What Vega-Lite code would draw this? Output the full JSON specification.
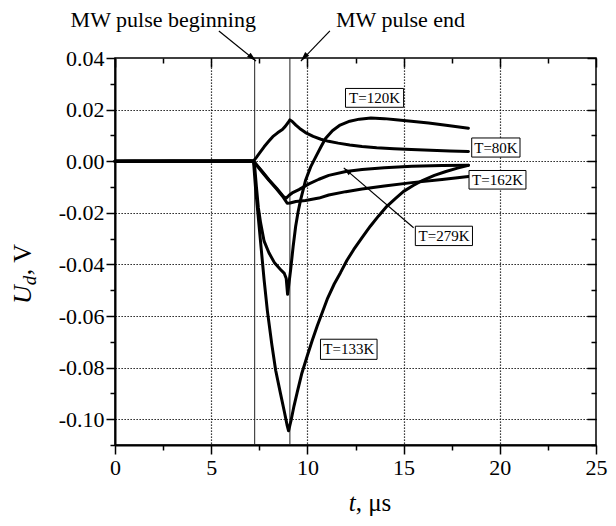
{
  "$schema": "https://vega.github.io/schema/vega-lite/v6.json",
  "width": 481,
  "height": 387,
  "autosize": {"type": "none"},
  "padding": {"left": 115, "top": 58, "right": 20, "bottom": 81},
  "background": "white",
  "config": {
    "view": {"stroke": "black", "strokeWidth": 1.5},
    "font": "Liberation Serif, Times New Roman, Times, serif",
    "text": {"font": "Liberation Serif, Times New Roman, Times, serif", "color": "black"}
  },
  "datasets": {
    "curves": [
      {"T": "80K", "t": 0, "u": 0}, {"T": "80K", "t": 1, "u": 0.0001}, {"T": "80K", "t": 2, "u": 0}, {"T": "80K", "t": 3, "u": 0.0001}, {"T": "80K", "t": 4, "u": 0}, {"T": "80K", "t": 5, "u": 0.0001}, {"T": "80K", "t": 6, "u": 0.0001}, {"T": "80K", "t": 7, "u": 0.0002}, {"T": "80K", "t": 7.2, "u": 0.0001},
      {"T": "80K", "t": 7.35, "u": 0.0015}, {"T": "80K", "t": 7.5, "u": 0.003}, {"T": "80K", "t": 7.75, "u": 0.0056}, {"T": "80K", "t": 8.0, "u": 0.0078}, {"T": "80K", "t": 8.2, "u": 0.0095}, {"T": "80K", "t": 8.45, "u": 0.011}, {"T": "80K", "t": 8.7, "u": 0.0123}, {"T": "80K", "t": 8.85, "u": 0.0135}, {"T": "80K", "t": 9.0, "u": 0.015}, {"T": "80K", "t": 9.09, "u": 0.016}, {"T": "80K", "t": 9.2, "u": 0.0155}, {"T": "80K", "t": 9.4, "u": 0.014}, {"T": "80K", "t": 9.6, "u": 0.0127}, {"T": "80K", "t": 9.9, "u": 0.0111}, {"T": "80K", "t": 10.3, "u": 0.0096}, {"T": "80K", "t": 10.7, "u": 0.0085}, {"T": "80K", "t": 11.1, "u": 0.0077}, {"T": "80K", "t": 11.6, "u": 0.007}, {"T": "80K", "t": 12.2, "u": 0.0063}, {"T": "80K", "t": 12.84, "u": 0.0057}, {"T": "80K", "t": 13.6, "u": 0.0052}, {"T": "80K", "t": 14.5, "u": 0.0048}, {"T": "80K", "t": 15.4, "u": 0.0045}, {"T": "80K", "t": 16.4, "u": 0.0042}, {"T": "80K", "t": 17.4, "u": 0.004}, {"T": "80K", "t": 18.37, "u": 0.0038},

      {"T": "120K", "t": 0, "u": 0}, {"T": "120K", "t": 1, "u": 0}, {"T": "120K", "t": 2, "u": 0.0001}, {"T": "120K", "t": 3, "u": 0}, {"T": "120K", "t": 4, "u": 0.0001}, {"T": "120K", "t": 5, "u": 0}, {"T": "120K", "t": 6, "u": 0.0001}, {"T": "120K", "t": 7, "u": 0.0001}, {"T": "120K", "t": 7.2, "u": 0},
      {"T": "120K", "t": 7.26, "u": -0.002}, {"T": "120K", "t": 7.35, "u": -0.01}, {"T": "120K", "t": 7.45, "u": -0.018}, {"T": "120K", "t": 7.57, "u": -0.024}, {"T": "120K", "t": 7.75, "u": -0.031}, {"T": "120K", "t": 8.0, "u": -0.0355}, {"T": "120K", "t": 8.3, "u": -0.0395}, {"T": "120K", "t": 8.6, "u": -0.042}, {"T": "120K", "t": 8.8, "u": -0.0435}, {"T": "120K", "t": 8.9, "u": -0.0455}, {"T": "120K", "t": 8.97, "u": -0.0516}, {"T": "120K", "t": 9.13, "u": -0.042}, {"T": "120K", "t": 9.26, "u": -0.033}, {"T": "120K", "t": 9.39, "u": -0.0252}, {"T": "120K", "t": 9.52, "u": -0.0195}, {"T": "120K", "t": 9.65, "u": -0.0149}, {"T": "120K", "t": 9.9, "u": -0.0075}, {"T": "120K", "t": 10.17, "u": -0.0022}, {"T": "120K", "t": 10.42, "u": 0.0015}, {"T": "120K", "t": 10.7, "u": 0.0055}, {"T": "120K", "t": 10.94, "u": 0.0088}, {"T": "120K", "t": 11.3, "u": 0.0118}, {"T": "120K", "t": 11.7, "u": 0.014}, {"T": "120K", "t": 12.2, "u": 0.0155}, {"T": "120K", "t": 12.7, "u": 0.0163}, {"T": "120K", "t": 13.3, "u": 0.0167}, {"T": "120K", "t": 14.0, "u": 0.0165}, {"T": "120K", "t": 14.6, "u": 0.0161}, {"T": "120K", "t": 15.4, "u": 0.0155}, {"T": "120K", "t": 16.3, "u": 0.0148}, {"T": "120K", "t": 17.3, "u": 0.0138}, {"T": "120K", "t": 18.37, "u": 0.0128},

      {"T": "133K", "t": 0, "u": 0}, {"T": "133K", "t": 1, "u": 0}, {"T": "133K", "t": 2, "u": 0}, {"T": "133K", "t": 3, "u": 0.0001}, {"T": "133K", "t": 4, "u": 0}, {"T": "133K", "t": 5, "u": 0}, {"T": "133K", "t": 6, "u": 0.0001}, {"T": "133K", "t": 7, "u": 0}, {"T": "133K", "t": 7.2, "u": 0},
      {"T": "133K", "t": 7.3, "u": -0.01}, {"T": "133K", "t": 7.45, "u": -0.022}, {"T": "133K", "t": 7.6, "u": -0.034}, {"T": "133K", "t": 7.75, "u": -0.046}, {"T": "133K", "t": 7.92, "u": -0.058}, {"T": "133K", "t": 8.15, "u": -0.071}, {"T": "133K", "t": 8.35, "u": -0.081}, {"T": "133K", "t": 8.6, "u": -0.09}, {"T": "133K", "t": 8.8, "u": -0.097}, {"T": "133K", "t": 8.95, "u": -0.1025}, {"T": "133K", "t": 9.02, "u": -0.1045}, {"T": "133K", "t": 9.15, "u": -0.1005}, {"T": "133K", "t": 9.3, "u": -0.095}, {"T": "133K", "t": 9.47, "u": -0.0896}, {"T": "133K", "t": 9.7, "u": -0.0825}, {"T": "133K", "t": 9.99, "u": -0.0755}, {"T": "133K", "t": 10.25, "u": -0.0695}, {"T": "133K", "t": 10.51, "u": -0.0639}, {"T": "133K", "t": 11.03, "u": -0.0535}, {"T": "133K", "t": 11.4, "u": -0.0475}, {"T": "133K", "t": 11.72, "u": -0.0432}, {"T": "133K", "t": 12.05, "u": -0.0385}, {"T": "133K", "t": 12.41, "u": -0.0342}, {"T": "133K", "t": 12.85, "u": -0.0295}, {"T": "133K", "t": 13.27, "u": -0.0252}, {"T": "133K", "t": 13.7, "u": -0.0212}, {"T": "133K", "t": 14.13, "u": -0.0175}, {"T": "133K", "t": 14.57, "u": -0.0145}, {"T": "133K", "t": 15.0, "u": -0.0117}, {"T": "133K", "t": 15.5, "u": -0.0094}, {"T": "133K", "t": 16.0, "u": -0.0074}, {"T": "133K", "t": 16.6, "u": -0.0055}, {"T": "133K", "t": 17.2, "u": -0.004}, {"T": "133K", "t": 17.8, "u": -0.0027}, {"T": "133K", "t": 18.37, "u": -0.0016},

      {"T": "162K", "t": 0, "u": 0}, {"T": "162K", "t": 1, "u": 0}, {"T": "162K", "t": 2, "u": 0}, {"T": "162K", "t": 3, "u": 0}, {"T": "162K", "t": 4, "u": 0.0001}, {"T": "162K", "t": 5, "u": 0}, {"T": "162K", "t": 6, "u": 0}, {"T": "162K", "t": 7, "u": 0.0001}, {"T": "162K", "t": 7.2, "u": 0},
      {"T": "162K", "t": 7.6, "u": -0.0038}, {"T": "162K", "t": 8.0, "u": -0.0074}, {"T": "162K", "t": 8.4, "u": -0.0108}, {"T": "162K", "t": 8.75, "u": -0.014}, {"T": "162K", "t": 8.95, "u": -0.0163}, {"T": "162K", "t": 9.1, "u": -0.0162}, {"T": "162K", "t": 9.4, "u": -0.0156}, {"T": "162K", "t": 9.9, "u": -0.0152}, {"T": "162K", "t": 10.6, "u": -0.0143}, {"T": "162K", "t": 11.11, "u": -0.0131}, {"T": "162K", "t": 12.0, "u": -0.0118}, {"T": "162K", "t": 12.84, "u": -0.0108}, {"T": "162K", "t": 14.0, "u": -0.0096}, {"T": "162K", "t": 15.43, "u": -0.0083}, {"T": "162K", "t": 17.0, "u": -0.0071}, {"T": "162K", "t": 18.37, "u": -0.0059},

      {"T": "279K", "t": 0, "u": 0}, {"T": "279K", "t": 1, "u": 0}, {"T": "279K", "t": 2, "u": 0}, {"T": "279K", "t": 3, "u": 0}, {"T": "279K", "t": 4, "u": 0}, {"T": "279K", "t": 5, "u": 0.0001}, {"T": "279K", "t": 6, "u": 0}, {"T": "279K", "t": 7, "u": 0}, {"T": "279K", "t": 7.2, "u": 0},
      {"T": "279K", "t": 7.6, "u": -0.0035}, {"T": "279K", "t": 8.0, "u": -0.0072}, {"T": "279K", "t": 8.4, "u": -0.0105}, {"T": "279K", "t": 8.75, "u": -0.0137}, {"T": "279K", "t": 8.9, "u": -0.0143}, {"T": "279K", "t": 9.05, "u": -0.0132}, {"T": "279K", "t": 9.21, "u": -0.0123}, {"T": "279K", "t": 9.56, "u": -0.011}, {"T": "279K", "t": 10.08, "u": -0.0088}, {"T": "279K", "t": 10.6, "u": -0.007}, {"T": "279K", "t": 11.11, "u": -0.0055}, {"T": "279K", "t": 12.0, "u": -0.004}, {"T": "279K", "t": 12.84, "u": -0.0032}, {"T": "279K", "t": 14.0, "u": -0.0025}, {"T": "279K", "t": 15.43, "u": -0.002}, {"T": "279K", "t": 17.0, "u": -0.0017}, {"T": "279K", "t": 18.37, "u": -0.0016}
    ],
    "markers": [{"t": 7.26}, {"t": 9.09}],
    "boxes": [
      {"label": "T=120K", "t0": 11.98, "t1": 15.0, "u0": 0.0209, "u1": 0.0282, "tc": 13.49, "uc": 0.0246},
      {"label": "T=80K", "t0": 18.54, "t1": 21.05, "u0": 0.0016, "u1": 0.009, "tc": 19.8, "uc": 0.0053},
      {"label": "T=162K", "t0": 18.4, "t1": 21.36, "u0": -0.0108, "u1": -0.0036, "tc": 19.88, "uc": -0.0072},
      {"label": "T=279K", "t0": 15.61, "t1": 18.58, "u0": -0.0327, "u1": -0.0252, "tc": 17.1, "uc": -0.029},
      {"label": "T=133K", "t0": 10.68, "t1": 13.62, "u0": -0.0768, "u1": -0.069, "tc": 12.15, "uc": -0.0729}
    ],
    "arrows": [
      {"name": "begin", "t0": 5.4, "u0": 0.0505, "t1": 7.33, "u1": 0.0388},
      {"name": "end", "t0": 11.17, "u0": 0.0505, "t1": 9.66, "u1": 0.0388},
      {"name": "k279", "t0": 15.52, "u0": -0.0258, "t1": 11.89, "u1": -0.0026}
    ],
    "notes": [
      {"txt": "MW pulse beginning", "t": 2.51, "u": 0.052},
      {"txt": "MW pulse end", "t": 14.84, "u": 0.052}
    ],
    "ytitle": [{"t": -4.34, "u": -0.0481}],
    "xtitle": [{"t": 12.51, "u": -0.1354}]
  },
  "layer": [
    {
      "data": {"name": "markers"},
      "mark": {"type": "rule", "stroke": "#222", "strokeWidth": 1},
      "encoding": {
        "x": {"field": "t", "type": "quantitative", "scale": {"domain": [0, 25], "nice": false, "zero": false}, "axis": null}
      }
    },
    {
      "data": {"name": "curves"},
      "mark": {"type": "line", "stroke": "black", "strokeWidth": 3, "strokeJoin": "round", "strokeCap": "round"},
      "encoding": {
        "x": {
          "field": "t", "type": "quantitative",
          "scale": {"domain": [0, 25], "nice": false, "zero": false},
          "axis": {
            "orient": "bottom", "title": null,
            "values": [0, 2.5, 5, 7.5, 10, 12.5, 15, 17.5, 20, 22.5, 25],
            "format": "d",
            "labelExpr": "datum.value % 5 === 0 ? datum.label : ''",
            "labelFont": "Liberation Serif, Times New Roman, Times, serif", "labelFontSize": 22, "labelColor": "black", "labelPadding": 3,
            "labelFlush": false, "labelOverlap": false,
            "tickColor": "black", "tickWidth": 1.5,
            "tickSize": {"condition": {"test": "datum.value % 5 === 0", "value": 9}, "value": 5},
            "domain": true, "domainColor": "black", "domainWidth": 2,
            "grid": true, "gridColor": "black", "gridDash": [1.3, 1.7], "gridWidth": 1.2,
            "gridOpacity": {"condition": {"test": "datum.value % 5 === 0 && datum.value > 0 && datum.value < 25", "value": 1}, "value": 0}
          }
        },
        "y": {
          "field": "u", "type": "quantitative",
          "scale": {"domain": [-0.11, 0.04], "nice": false, "zero": false},
          "axis": {
            "orient": "left", "title": null,
            "values": [-0.11, -0.1, -0.09, -0.08, -0.07, -0.06, -0.05, -0.04, -0.03, -0.02, -0.01, 0, 0.01, 0.02, 0.03, 0.04],
            "format": ".2f",
            "labelExpr": "abs(round(datum.value * 100)) % 2 === 0 ? replace(datum.label, '\u2212', '-') : ''",
            "labelFont": "Liberation Serif, Times New Roman, Times, serif", "labelFontSize": 22, "labelColor": "black", "labelPadding": 2,
            "labelOverlap": false, "labelFlush": false,
            "tickColor": "black", "tickWidth": 1.5,
            "tickSize": {"condition": {"test": "abs(round(datum.value * 100)) % 2 === 0", "value": 9}, "value": 5},
            "domain": true, "domainColor": "black", "domainWidth": 2,
            "grid": true, "gridColor": "black", "gridDash": [1.3, 1.7], "gridWidth": 1.2,
            "gridOpacity": {"condition": {"test": "abs(round(datum.value * 100)) % 2 === 0 && datum.value > -0.105 && datum.value < 0.035", "value": 1}, "value": 0}
          }
        },
        "detail": {"field": "T"}
      }
    },
    {
      "data": {"name": "boxes"},
      "mark": {"type": "rect", "fill": "white", "stroke": "black", "strokeWidth": 1},
      "encoding": {
        "x": {
          "field": "t0", "type": "quantitative",
          "scale": {"domain": [0, 25], "nice": false, "zero": false},
          "axis": {
            "orient": "top", "title": null,
            "values": [0, 2.5, 5, 7.5, 10, 12.5, 15, 17.5, 20, 22.5, 25],
            "labels": false, "domain": false, "grid": false,
            "tickColor": "black", "tickWidth": 1.5,
            "tickSize": {"condition": {"test": "datum.value % 5 === 0", "value": -9}, "value": -5}
          }
        },
        "x2": {"field": "t1"},
        "y": {
          "field": "u0", "type": "quantitative",
          "scale": {"domain": [-0.11, 0.04], "nice": false, "zero": false},
          "axis": {
            "orient": "right", "title": null,
            "values": [-0.11, -0.1, -0.09, -0.08, -0.07, -0.06, -0.05, -0.04, -0.03, -0.02, -0.01, 0, 0.01, 0.02, 0.03, 0.04],
            "labels": false, "domain": false, "grid": false,
            "tickColor": "black", "tickWidth": 1.5,
            "tickSize": {"condition": {"test": "abs(round(datum.value * 100)) % 2 === 0", "value": -9}, "value": -5}
          }
        },
        "y2": {"field": "u1"}
      }
    },
    {
      "data": {"name": "boxes"},
      "mark": {"type": "text", "fontSize": 15, "align": "center", "baseline": "middle", "color": "black"},
      "encoding": {
        "x": {"field": "tc", "type": "quantitative", "scale": {"domain": [0, 25], "nice": false, "zero": false}, "axis": null},
        "y": {"field": "uc", "type": "quantitative", "scale": {"domain": [-0.11, 0.04], "nice": false, "zero": false}, "axis": null},
        "text": {"field": "label"}
      }
    },
    {
      "data": {"name": "arrows"},
      "mark": {"type": "rule", "stroke": "black", "strokeWidth": 1.2},
      "encoding": {
        "x": {"field": "t0", "type": "quantitative", "scale": {"domain": [0, 25], "nice": false, "zero": false}, "axis": null},
        "y": {"field": "u0", "type": "quantitative", "scale": {"domain": [-0.11, 0.04], "nice": false, "zero": false}, "axis": null},
        "x2": {"field": "t1"},
        "y2": {"field": "u1"}
      }
    },
    {
      "data": {"name": "arrows"},
      "transform": [{"filter": "datum.name === 'begin'"}],
      "mark": {"type": "point", "shape": "M0,0L0.45,1.6L-0.45,1.6Z", "filled": true, "color": "black", "opacity": 1, "size": 144, "angle": 131.7},
      "encoding": {
        "x": {"field": "t1", "type": "quantitative", "scale": {"domain": [0, 25], "nice": false, "zero": false}, "axis": null},
        "y": {"field": "u1", "type": "quantitative", "scale": {"domain": [-0.11, 0.04], "nice": false, "zero": false}, "axis": null}
      }
    },
    {
      "data": {"name": "arrows"},
      "transform": [{"filter": "datum.name === 'end'"}],
      "mark": {"type": "point", "shape": "M0,0L0.45,1.6L-0.45,1.6Z", "filled": true, "color": "black", "opacity": 1, "size": 144, "angle": 221.3},
      "encoding": {
        "x": {"field": "t1", "type": "quantitative", "scale": {"domain": [0, 25], "nice": false, "zero": false}, "axis": null},
        "y": {"field": "u1", "type": "quantitative", "scale": {"domain": [-0.11, 0.04], "nice": false, "zero": false}, "axis": null}
      }
    },
    {
      "data": {"name": "arrows"},
      "transform": [{"filter": "datum.name === 'k279'"}],
      "mark": {"type": "point", "shape": "M0,0L0.45,1.6L-0.45,1.6Z", "filled": true, "color": "black", "opacity": 1, "size": 110, "angle": 310.6},
      "encoding": {
        "x": {"field": "t1", "type": "quantitative", "scale": {"domain": [0, 25], "nice": false, "zero": false}, "axis": null},
        "y": {"field": "u1", "type": "quantitative", "scale": {"domain": [-0.11, 0.04], "nice": false, "zero": false}, "axis": null}
      }
    },
    {
      "data": {"name": "notes"},
      "mark": {"type": "text", "fontSize": 22, "align": "center", "baseline": "alphabetic", "color": "black"},
      "encoding": {
        "x": {"field": "t", "type": "quantitative", "scale": {"domain": [0, 25], "nice": false, "zero": false}, "axis": null},
        "y": {"field": "u", "type": "quantitative", "scale": {"domain": [-0.11, 0.04], "nice": false, "zero": false}, "axis": null},
        "text": {"field": "txt"}
      }
    },
    {
      "data": {"name": "ytitle"},
      "mark": {"type": "text", "text": "U", "angle": 270, "align": "right", "baseline": "alphabetic", "fontStyle": "italic", "fontSize": 26, "color": "black"},
      "encoding": {
        "x": {"field": "t", "type": "quantitative", "scale": {"domain": [0, 25], "nice": false, "zero": false}, "axis": null},
        "y": {"field": "u", "type": "quantitative", "scale": {"domain": [-0.11, 0.04], "nice": false, "zero": false}, "axis": null}
      }
    },
    {
      "data": {"name": "ytitle"},
      "mark": {"type": "text", "text": "d", "angle": 270, "align": "left", "baseline": "alphabetic", "dy": 5, "fontStyle": "italic", "fontSize": 19, "color": "black"},
      "encoding": {
        "x": {"field": "t", "type": "quantitative", "scale": {"domain": [0, 25], "nice": false, "zero": false}, "axis": null},
        "y": {"field": "u", "type": "quantitative", "scale": {"domain": [-0.11, 0.04], "nice": false, "zero": false}, "axis": null}
      }
    },
    {
      "data": {"name": "ytitle"},
      "mark": {"type": "text", "text": ", V", "angle": 270, "align": "left", "baseline": "alphabetic", "dx": 10, "fontSize": 26, "color": "black"},
      "encoding": {
        "x": {"field": "t", "type": "quantitative", "scale": {"domain": [0, 25], "nice": false, "zero": false}, "axis": null},
        "y": {"field": "u", "type": "quantitative", "scale": {"domain": [-0.11, 0.04], "nice": false, "zero": false}, "axis": null}
      }
    },
    {
      "data": {"name": "xtitle"},
      "mark": {"type": "text", "text": "t", "align": "right", "baseline": "alphabetic", "fontStyle": "italic", "fontSize": 25, "color": "black"},
      "encoding": {
        "x": {"field": "t", "type": "quantitative", "scale": {"domain": [0, 25], "nice": false, "zero": false}, "axis": null},
        "y": {"field": "u", "type": "quantitative", "scale": {"domain": [-0.11, 0.04], "nice": false, "zero": false}, "axis": null}
      }
    },
    {
      "data": {"name": "xtitle"},
      "mark": {"type": "text", "text": ", μs", "align": "left", "baseline": "alphabetic", "fontSize": 25, "color": "black"},
      "encoding": {
        "x": {"field": "t", "type": "quantitative", "scale": {"domain": [0, 25], "nice": false, "zero": false}, "axis": null},
        "y": {"field": "u", "type": "quantitative", "scale": {"domain": [-0.11, 0.04], "nice": false, "zero": false}, "axis": null}
      }
    }
  ],
  "resolve": {"axis": {"x": "independent", "y": "independent"}}
}
